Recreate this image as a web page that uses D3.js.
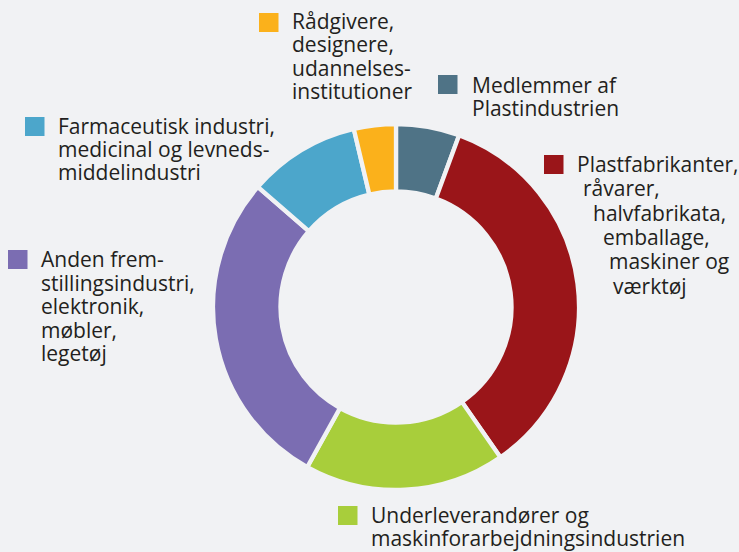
<!DOCTYPE html>
<html>
<head>
<meta charset="utf-8">
<script src="https://cdn.jsdelivr.net/npm/d3@7"></script>
<style>
  body { margin: 0; background: #f1f2f4; }
  svg { display: block; }
  text { font-family: "Open Sans", sans-serif; font-size: 21px; fill: #231f20; }
</style>
</head>
<body>
<div id="chart"></div>
<script>
// data (clockwise from 12 o'clock)
const categories = [
  "Medlemmer af Plastindustrien",
  "Plastfabrikanter, råvarer, halvfabrikata, emballage, maskiner og værktøj",
  "Underleverandører og maskinforarbejdningsindustrien",
  "Anden fremstillingsindustri, elektronik, møbler, legetøj",
  "Farmaceutisk industri, medicinal og levnedsmiddelindustri",
  "Rådgivere, designere, udannelsesinstitutioner"
];
const values = [5.6, 34.7, 17.7, 28.3, 9.9, 3.7];
const labelLines = [
  ["Medlemmer af", "Plastindustrien"],
  ["Plastfabrikanter,", "råvarer,", "halvfabrikata,", "emballage,", "maskiner og", "værktøj"],
  ["Underleverandører og", "maskinforarbejdningsindustrien"],
  ["Anden frem-", "stillingsindustri,", "elektronik,", "møbler,", "legetøj"],
  ["Farmaceutisk industri,", "medicinal og levneds-", "middelindustri"],
  ["Rådgivere,", "designere,", "udannelses-", "institutioner"]
];
const colors = ["#4f7386", "#9a1519", "#a8ce3b", "#7b6db2", "#4ca6cb", "#fbb11b"];

// legend layout: square pos, text x, first baseline, line step, per-line x shifts
const legendLayout = [
  {sx: 438, sy: 75, tx: 472, by: 93, step: 23.3, shift: [0, 0]},
  {sx: 544, sy: 155, tx: 577, by: 172, step: 24.3, shift: [0, 6, 16, 26, 32, 36]},
  {sx: 338, sy: 506, tx: 371, by: 523, step: 23, shift: [0, 0]},
  {sx: 8, sy: 250, tx: 41, by: 267, step: 23.5, shift: [0, 0, 0, 0, 0]},
  {sx: 25, sy: 117, tx: 58, by: 134, step: 23.2, shift: [0, 0, 0]},
  {sx: 259, sy: 13, tx: 292, by: 29, step: 23.3, shift: [0, 0, 0, 0]}
];

const width = 739, height = 552;
const cx = 396, cy = 307;
const outerR = 183, innerR = 115.5;

const svg = d3.select("#chart")
  .append("svg")
  .attr("width", width)
  .attr("height", height);

svg.append("rect")
  .attr("width", width)
  .attr("height", height)
  .attr("fill", "#f1f2f4");

const pie = d3.pie().sort(null).value((d) => d);
const arc = d3.arc().innerRadius(innerR).outerRadius(outerR);

// donut slices
svg.append("g")
  .attr("transform", `translate(${cx},${cy})`)
  .selectAll("path")
  .data(pie(values))
  .join("path")
  .attr("d", arc)
  .attr("fill", (d, i) => colors[i])
  .attr("stroke", "#f1f2f4")
  .attr("stroke-width", 4.3)
  .attr("stroke-linejoin", "miter");

// legend entries
const legend = svg.append("g")
  .selectAll("g")
  .data(categories)
  .join("g");

legend.append("rect")
  .attr("x", (d, i) => legendLayout[i].sx)
  .attr("y", (d, i) => legendLayout[i].sy)
  .attr("width", 19.5)
  .attr("height", 19)
  .attr("fill", (d, i) => colors[i]);

legend.each(function (d, i) {
  const L = legendLayout[i];
  d3.select(this)
    .selectAll("text")
    .data(labelLines[i])
    .join("text")
    .attr("x", (t, j) => L.tx + L.shift[j])
    .attr("y", (t, j) => L.by + j * L.step)
    .text((t) => t);
});
</script>
</body>
</html>
